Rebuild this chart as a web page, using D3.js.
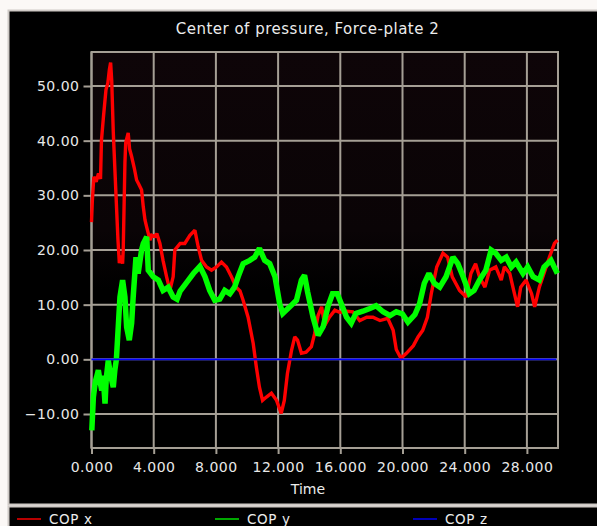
<!DOCTYPE html>
<html>
<head>
<meta charset="utf-8">
<script src="https://cdn.jsdelivr.net/npm/d3@7"></script>
<style>
  html, body { margin: 0; padding: 0; background: #fbf8f6; }
  svg { display: block; }
</style>
</head>
<body>
<script>
// ---------- data ----------
const chartTitle = "Center of pressure, Force-plate 2";
const xAxisTitle = "Time";
const seriesNames = ["COP x", "COP y", "COP z"];
const xTickValues = [0, 4, 8, 12, 16, 20, 24, 28];
const yTickValues = [-10, 0, 10, 20, 30, 40, 50];

const copXTime = [0.0,0.05,0.15,0.3,0.45,0.58,0.64,0.77,0.93,1.05,1.15,1.23,1.3,1.4,1.57,1.7,1.79,1.9,2.0,2.04,2.15,2.2,2.36,2.45,2.58,2.75,2.9,3.05,3.22,3.33,3.44,3.55,3.76,3.87,4.08,4.2,4.4,4.6,4.83,5.04,5.25,5.36,5.7,6.0,6.33,6.65,6.86,7.08,7.4,7.72,8.04,8.36,8.68,9.0,9.3,9.55,9.75,10.07,10.4,10.6,10.8,11.0,11.25,11.57,11.9,12.2,12.4,12.6,12.86,13.07,13.25,13.5,13.8,14.14,14.35,14.57,14.8,15.0,15.3,15.65,15.95,16.4,16.8,17.25,17.7,18.1,18.55,19.05,19.4,19.6,19.9,20.25,20.7,21.0,21.3,21.6,21.85,22.2,22.6,22.9,23.2,23.67,24.1,24.4,24.7,24.95,25.3,25.6,26.0,26.35,26.55,26.9,27.1,27.4,27.6,27.95,28.3,28.5,28.8,29.1,29.45,29.77,29.96];
const copX = [25.1,28.8,33.4,32.5,34.0,33.0,40.0,44.4,49.3,50.5,53.0,54.3,51.0,41.6,30.4,22.0,17.6,19.0,17.5,20.0,36.0,39.6,41.4,38.5,37.1,35.0,32.8,32.0,31.0,27.9,25.5,24.2,21.8,22.7,22.5,23.0,21.2,18.1,15.1,12.6,15.1,20.0,21.2,21.2,22.7,23.6,20.6,18.1,16.9,16.3,16.9,17.8,16.9,15.1,13.2,12.5,10.8,7.7,2.9,-1.4,-5.1,-7.5,-6.9,-6.2,-7.5,-9.9,-7.5,-2.6,1.6,4.1,3.5,1.1,1.3,2.3,4.7,8.0,9.6,6.2,7.7,9.0,8.6,8.8,8.7,7.1,7.7,7.7,7.1,7.5,5.3,1.8,0.2,1.1,2.5,4.1,5.3,7.7,12.0,16.9,19.4,18.7,15.1,12.6,11.4,15.7,17.5,15.1,13.2,16.3,16.9,14.5,16.9,15.7,13.2,9.6,13.2,14.5,12.0,9.6,13.2,15.7,18.7,21.2,21.8];

const copYTime = [0.02,0.12,0.25,0.33,0.44,0.55,0.66,0.75,0.87,0.95,1.08,1.2,1.3,1.4,1.5,1.6,1.72,1.83,2.0,2.15,2.26,2.43,2.58,2.68,2.86,3.0,3.22,3.33,3.44,3.55,3.65,3.97,4.3,4.6,4.93,5.25,5.5,5.7,6.1,6.55,6.97,7.3,7.6,7.93,8.25,8.57,8.9,9.2,9.43,9.75,10.18,10.5,10.8,11.14,11.46,11.8,12.1,12.3,12.75,13.18,13.5,13.7,13.9,14.25,14.57,14.9,15.2,15.5,15.8,16.06,16.4,16.7,17.0,17.45,17.9,18.3,18.75,19.2,19.6,20.0,20.35,20.8,21.1,21.4,21.7,22.05,22.4,22.8,23.25,23.56,23.9,24.3,24.6,24.95,25.36,25.7,26.0,26.35,26.67,27.0,27.3,27.75,28.05,28.4,28.8,29.1,29.55,29.96];
const copY = [-13.0,-6.9,-4.0,-3.2,-2.0,-4.0,-5.7,-3.0,-8.1,-3.5,-0.2,-2.5,-3.8,-5.1,-2.0,0.0,5.9,11.4,14.5,11.4,5.9,3.5,6.6,11.4,18.7,15.7,20.0,21.2,21.8,22.4,16.3,15.1,14.5,12.6,13.2,11.4,11.0,12.5,14.0,15.7,17.0,15.1,12.6,10.8,11.0,12.6,12.0,13.2,15.1,17.5,18.1,18.7,20.3,18.1,17.5,15.1,10.2,8.4,9.6,10.8,14.5,15.4,12.3,7.7,4.4,6.0,9.6,12.0,12.0,10.2,7.7,6.6,8.4,8.8,9.3,9.8,8.7,8.0,8.7,8.3,6.8,8.2,10.2,13.9,15.7,13.9,13.2,15.1,18.7,17.5,15.1,12.0,12.6,14.5,16.3,20.0,19.4,18.1,18.7,16.9,17.8,15.7,16.9,15.1,14.5,16.9,18.1,15.7];

const copZTime = [0.0, 29.9];
const copZ = [0.0, 0.0];

// ---------- layout ----------
const W = 597, H = 526;
const plot = { left: 91.5, right: 558, top: 52, bottom: 448 };
const font = "'DejaVu Sans', Verdana, sans-serif";

const svg = d3.select("body").append("svg").attr("width", W).attr("height", H);

// outer window panel
svg.append("rect").attr("x", 0).attr("y", 0).attr("width", W).attr("height", H).attr("fill", "#fbf8f6");
svg.append("rect").attr("x", 8.5).attr("y", 10.5).attr("width", W + 10).attr("height", 494)
  .attr("fill", "#000").attr("stroke", "#cfcac6").attr("stroke-width", 2);
// legend panel
svg.append("rect").attr("x", 8.5).attr("y", 506.5).attr("width", W + 10).attr("height", 30)
  .attr("fill", "#000").attr("stroke", "#cfcac6").attr("stroke-width", 2);

// plot background (faint maroon tint of the reference)
const bg = svg.append("defs").append("linearGradient").attr("id", "bgGrad")
  .attr("x1", 0).attr("y1", 0).attr("x2", 0).attr("y2", 1);
bg.append("stop").attr("offset", "0%").attr("stop-color", "#0e0508");
bg.append("stop").attr("offset", "45%").attr("stop-color", "#0a0406");
bg.append("stop").attr("offset", "60%").attr("stop-color", "#000");
bg.append("stop").attr("offset", "100%").attr("stop-color", "#000");
svg.append("rect").attr("x", plot.left).attr("y", plot.top)
  .attr("width", plot.right - plot.left).attr("height", plot.bottom - plot.top)
  .attr("fill", "url(#bgGrad)");

// ---------- scales ----------
const x = d3.scaleLinear().domain([0, 30]).range([plot.left, plot.right]);
const y = d3.scaleLinear().domain([-16.22, 56.22]).range([plot.bottom, plot.top]);

const gridColor = "#a59f95";

// grid lines
const grid = svg.append("g");
grid.selectAll(".gx").data(xTickValues).join("line")
  .attr("x1", d => x(d)).attr("x2", d => x(d))
  .attr("y1", plot.top).attr("y2", plot.bottom)
  .attr("stroke", gridColor).attr("stroke-width", 2);
grid.selectAll(".gy").data(yTickValues).join("line")
  .attr("x1", plot.left).attr("x2", plot.right)
  .attr("y1", d => y(d)).attr("y2", d => y(d))
  .attr("stroke", gridColor).attr("stroke-width", 2);
svg.append("rect").attr("x", plot.left).attr("y", plot.top)
  .attr("width", plot.right - plot.left).attr("height", plot.bottom - plot.top)
  .attr("fill", "none").attr("stroke", gridColor).attr("stroke-width", 2);

// axes
const xAxis = svg.append("g").attr("transform", `translate(0,${plot.bottom})`)
  .call(d3.axisBottom(x).tickValues(xTickValues).tickFormat(d3.format(".3f")).tickSize(6).tickPadding(8));
const yAxis = svg.append("g").attr("transform", `translate(${plot.left},0)`)
  .call(d3.axisLeft(y).tickValues(yTickValues).tickFormat(d3.format(".2f")).tickSize(8).tickPadding(4));
[xAxis, yAxis].forEach(a => {
  a.select(".domain").remove();
  a.selectAll(".tick line").attr("stroke", gridColor).attr("stroke-width", 2);
  a.selectAll(".tick text").attr("fill", "#e8e8e8")
    .style("font-family", font).style("font-size", "14px").style("letter-spacing", "0.5px");
});

// ---------- series ----------
const line = d3.line().x(d => x(d[0])).y(d => y(d[1]));
const series = [
  { name: seriesNames[0], t: copXTime, v: copX, color: "#ff0000", width: 3.4, legend: "#b80000" },
  { name: seriesNames[1], t: copYTime, v: copY, color: "#00ff00", width: 5.5, legend: "#00a800" },
  { name: seriesNames[2], t: copZTime, v: copZ, color: "#0000ff", width: 1.6, legend: "#0000b8" }
];
svg.append("g").selectAll("path").data(series).join("path")
  .attr("d", s => line(s.t.map((t, i) => [t, s.v[i]])))
  .attr("fill", "none").attr("stroke", s => s.color).attr("stroke-width", s => s.width)
  .attr("stroke-linejoin", "miter").attr("stroke-miterlimit", 2);

// ---------- texts ----------
svg.append("text").attr("x", 307.5).attr("y", 34).attr("text-anchor", "middle")
  .attr("fill", "#ececec").style("font-family", font).style("font-size", "15px")
  .style("letter-spacing", "0.5px").text(chartTitle);
svg.append("text").attr("x", 308).attr("y", 494).attr("text-anchor", "middle")
  .attr("fill", "#ececec").style("font-family", font).style("font-size", "14px")
  .text(xAxisTitle);

// legend
const legendX = [17, 215, 413];
const lg = svg.append("g").selectAll("g").data(series).join("g")
  .attr("transform", (s, i) => `translate(${legendX[i]},519)`);
lg.append("line").attr("x1", 0).attr("x2", 24).attr("y1", 0).attr("y2", 0)
  .attr("stroke", s => s.legend).attr("stroke-width", 2);
lg.append("text").attr("x", 32).attr("y", 4.5).attr("fill", "#ececec")
  .style("font-family", font).style("font-size", "13.5px").style("letter-spacing", "0.6px")
  .text(s => s.name);
</script>
</body>
</html>
